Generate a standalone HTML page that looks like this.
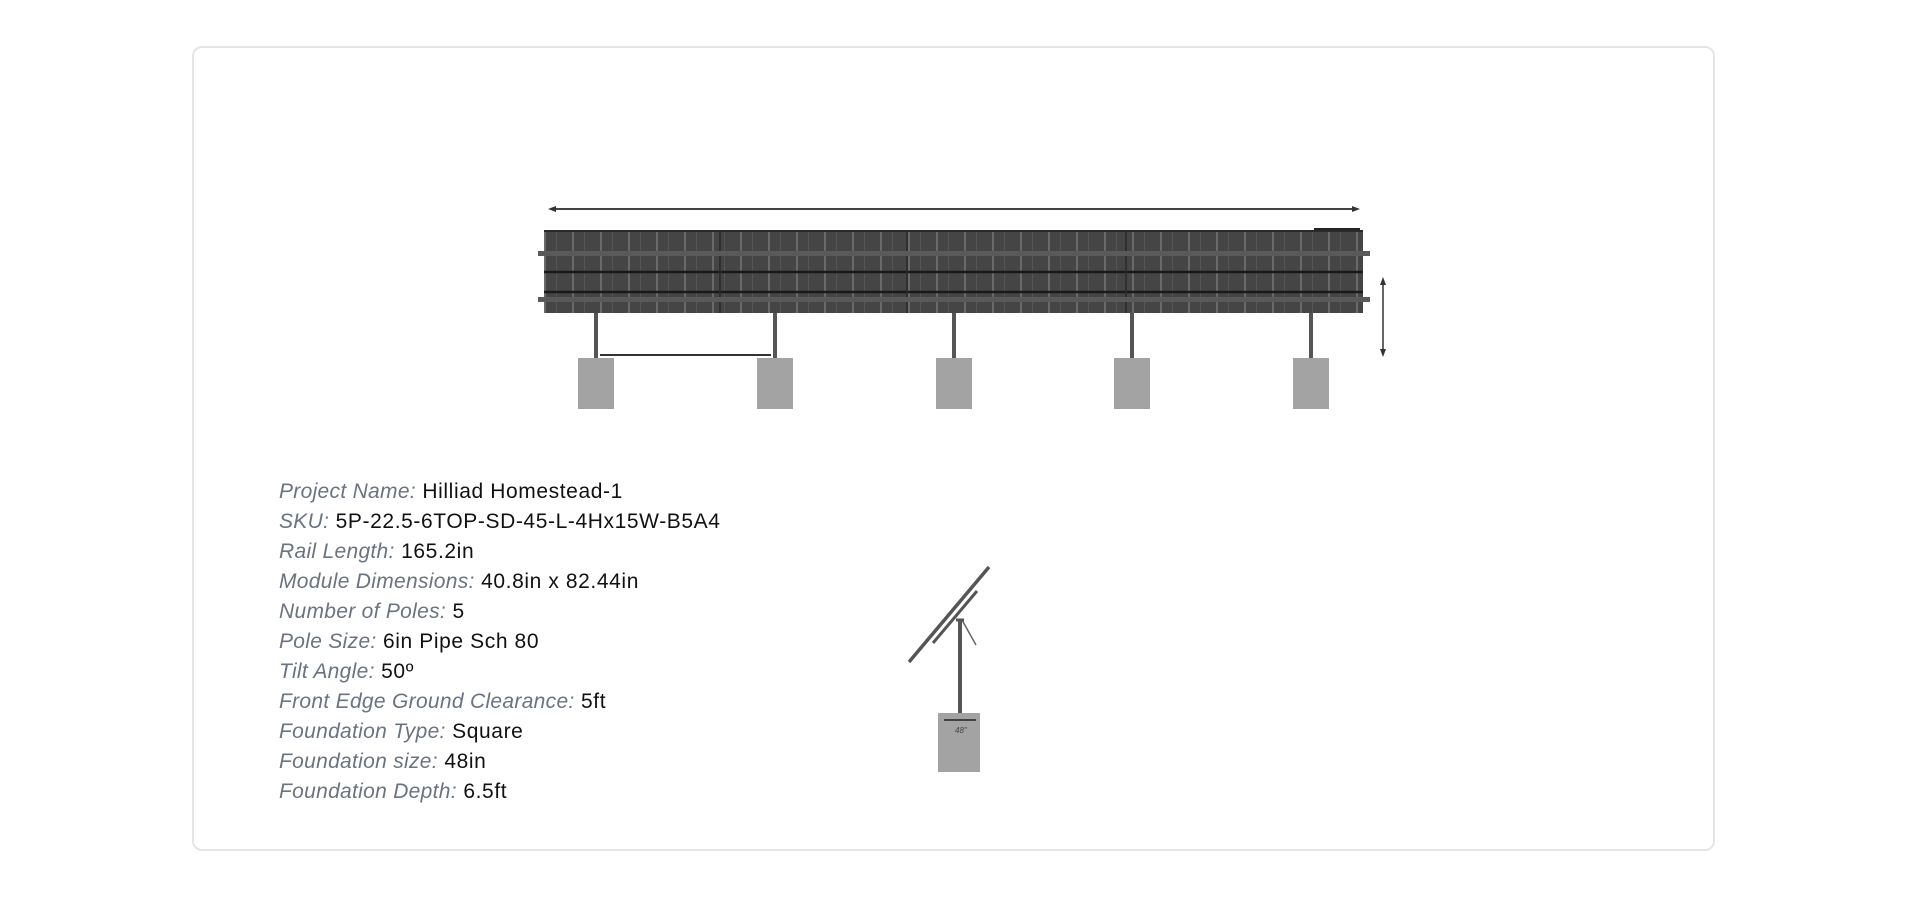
<!DOCTYPE html>
<html><head><meta charset="utf-8"><style>
html,body{margin:0;padding:0;background:#fff;width:1908px;height:897px;overflow:hidden;font-family:"Liberation Sans",sans-serif;}
.card{position:absolute;left:192px;top:46px;width:1523px;height:805px;border:2px solid #e5e5e5;border-radius:10px;box-sizing:border-box;}
.info{position:absolute;left:279px;top:477px;font-size:21px;line-height:30px;color:#111;letter-spacing:0.6px;}
.info i{color:#6b7280;letter-spacing:0.3px;}
</style></head><body>
<div class="card"></div>
<svg width="1908" height="897" style="position:absolute;left:0;top:0">
<defs>
<pattern id="cells" x="544" y="230" width="28" height="83" patternUnits="userSpaceOnUse">
<rect width="28" height="83" fill="#454545"/>
<rect x="0" width="2" height="83" fill="#6a6a6a"/>
<rect x="12" width="1" height="83" fill="#555"/>
</pattern>
</defs>
<line x1="552" y1="209" x2="1356" y2="209" stroke="#444" stroke-width="2"/>
<polygon points="548,209 556,206 556,212" fill="#333"/>
<polygon points="1360,209 1352,206 1352,212" fill="#333"/>
<rect x="544" y="230" width="819" height="83" fill="url(#cells)"/>
<line x1="544" y1="231" x2="1363" y2="231" stroke="#2a2a2a" stroke-width="2"/>
<line x1="544" y1="272" x2="1363" y2="272" stroke="#1a1a1a" stroke-width="2.5"/>
<line x1="544" y1="292" x2="1363" y2="292" stroke="#1a1a1a" stroke-width="2.5"/>
<line x1="720" y1="230" x2="720" y2="313" stroke="#2a2a2a" stroke-width="1.5"/>
<line x1="907" y1="230" x2="907" y2="313" stroke="#2a2a2a" stroke-width="1.5"/>
<line x1="1126" y1="230" x2="1126" y2="313" stroke="#2a2a2a" stroke-width="1.5"/>
<rect x="538" y="251" width="832" height="5" fill="#5a5a5a"/>
<rect x="538" y="297" width="832" height="5" fill="#5a5a5a"/>
<line x1="1314" y1="229" x2="1360" y2="229" stroke="#222" stroke-width="2"/>
<g fill="#555">
<rect x="594" y="313" width="4" height="45"/>
<rect x="773" y="313" width="4" height="45"/>
<rect x="952" y="313" width="4" height="45"/>
<rect x="1130" y="313" width="4" height="45"/>
<rect x="1309" y="313" width="4" height="45"/>
</g>
<g fill="#a3a3a3">
<rect x="578" y="358" width="36" height="51"/>
<rect x="757" y="358" width="36" height="51"/>
<rect x="936" y="358" width="36" height="51"/>
<rect x="1114" y="358" width="36" height="51"/>
<rect x="1293" y="358" width="36" height="51"/>
</g>
<line x1="600" y1="355" x2="771" y2="355" stroke="#333" stroke-width="2"/>
<line x1="1383" y1="281" x2="1383" y2="353" stroke="#333" stroke-width="1.5"/>
<polygon points="1383,277 1380,285 1386,285" fill="#333"/>
<polygon points="1383,357 1380,349 1386,349" fill="#333"/>
<rect x="938" y="713" width="42" height="59" fill="#a3a3a3"/>
<line x1="944" y1="720" x2="976" y2="720" stroke="#222" stroke-width="1.5"/>
<text x="955" y="733" font-size="8" fill="#444" font-style="italic">48"</text>
<rect x="958" y="620" width="4" height="93" fill="#555"/>
<line x1="909" y1="662" x2="989" y2="567" stroke="#555" stroke-width="3.5"/>
<line x1="933" y1="643" x2="977" y2="591" stroke="#555" stroke-width="3"/>
<line x1="962" y1="620" x2="976" y2="645" stroke="#666" stroke-width="1.5"/>
<line x1="956" y1="620" x2="964" y2="620" stroke="#555" stroke-width="3"/>
</svg>
<div class="info">
<div><i>Project Name:</i> Hilliad Homestead-1</div>
<div><i>SKU:</i> 5P-22.5-6TOP-SD-45-L-4Hx15W-B5A4</div>
<div><i>Rail Length:</i> 165.2in</div>
<div><i>Module Dimensions:</i> 40.8in x 82.44in</div>
<div><i>Number of Poles:</i> 5</div>
<div><i>Pole Size:</i> 6in Pipe Sch 80</div>
<div><i>Tilt Angle:</i> 50º</div>
<div><i>Front Edge Ground Clearance:</i> 5ft</div>
<div><i>Foundation Type:</i> Square</div>
<div><i>Foundation size:</i> 48in</div>
<div><i>Foundation Depth:</i> 6.5ft</div>
</div>
</body></html>
